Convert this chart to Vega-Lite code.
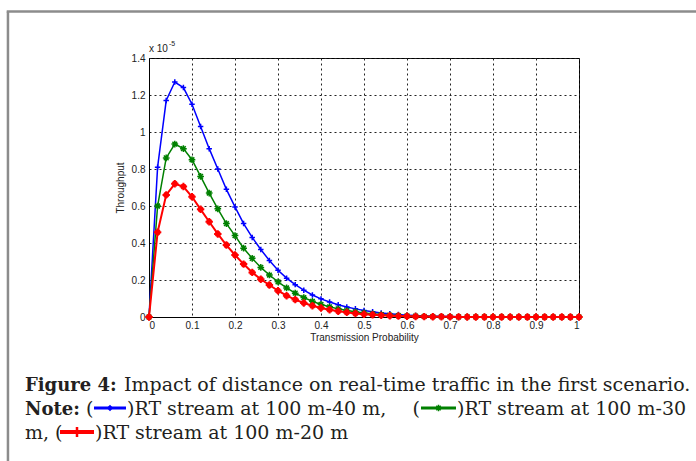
{
  "$schema": "https://vega.github.io/schema/vega-lite/v6.json",
  "width": 430,
  "height": 259,
  "autosize": {"type": "none"},
  "padding": {"left": 149, "top": 58, "right": 117, "bottom": 144},
  "background": "white",
  "resolve": {"axis": {"x": "independent", "y": "independent"}},
  "config": {
    "view": {"stroke": "black", "strokeWidth": 1},
    "font": "Liberation Sans",
    "axis": {
      "domainColor": "black",
      "ticks": false,
      "gridColor": "#222",
      "gridDash": [2, 3],
      "gridOpacity": 1,
      "gridWidth": 1,
      "labelFontSize": 10,
      "labelColor": "#222",
      "labelFont": "Liberation Sans",
      "labelOverlap": false,
      "titleFont": "Liberation Sans",
      "titleFontSize": 10,
      "titleFontWeight": "normal",
      "titleColor": "#222"
    }
  },
  "datasets": {
    "one": [{}],
    "tp": [
      {"x": 0, "b": 0, "g": 0, "r": 0},
      {"x": 0.02, "b": 0.81, "g": 0.6, "r": 0.458},
      {"x": 0.04, "b": 1.17, "g": 0.86, "r": 0.66},
      {"x": 0.06, "b": 1.27, "g": 0.935, "r": 0.72},
      {"x": 0.08, "b": 1.24, "g": 0.91, "r": 0.705},
      {"x": 0.1, "b": 1.15, "g": 0.85, "r": 0.65},
      {"x": 0.12, "b": 1.03, "g": 0.76, "r": 0.582},
      {"x": 0.14, "b": 0.91, "g": 0.67, "r": 0.515},
      {"x": 0.16, "b": 0.8, "g": 0.585, "r": 0.449},
      {"x": 0.18, "b": 0.69, "g": 0.505, "r": 0.389},
      {"x": 0.2, "b": 0.595, "g": 0.44, "r": 0.335},
      {"x": 0.22, "b": 0.505, "g": 0.372, "r": 0.286},
      {"x": 0.24, "b": 0.43, "g": 0.317, "r": 0.241},
      {"x": 0.26, "b": 0.365, "g": 0.268, "r": 0.204},
      {"x": 0.28, "b": 0.305, "g": 0.227, "r": 0.173},
      {"x": 0.3, "b": 0.253, "g": 0.19, "r": 0.142},
      {"x": 0.32, "b": 0.21, "g": 0.157, "r": 0.115},
      {"x": 0.34, "b": 0.175, "g": 0.129, "r": 0.094},
      {"x": 0.36, "b": 0.145, "g": 0.105, "r": 0.076},
      {"x": 0.38, "b": 0.119, "g": 0.085, "r": 0.061},
      {"x": 0.4, "b": 0.098, "g": 0.068, "r": 0.049},
      {"x": 0.42, "b": 0.081, "g": 0.055, "r": 0.039},
      {"x": 0.44, "b": 0.066, "g": 0.044, "r": 0.031},
      {"x": 0.46, "b": 0.054, "g": 0.035, "r": 0.025},
      {"x": 0.48, "b": 0.044, "g": 0.028, "r": 0.019},
      {"x": 0.5, "b": 0.035, "g": 0.022, "r": 0.015},
      {"x": 0.52, "b": 0.028, "g": 0.017, "r": 0.012},
      {"x": 0.54, "b": 0.022, "g": 0.013, "r": 0.009},
      {"x": 0.56, "b": 0.017, "g": 0.01, "r": 0.007},
      {"x": 0.58, "b": 0.013, "g": 0.008, "r": 0.005},
      {"x": 0.6, "b": 0.01, "g": 0.006, "r": 0.004},
      {"x": 0.62, "b": 0.008, "g": 0.0045, "r": 0.003},
      {"x": 0.64, "b": 0.006, "g": 0.0034, "r": 0.0022},
      {"x": 0.66, "b": 0.0045, "g": 0.0025, "r": 0.0016},
      {"x": 0.68, "b": 0.0034, "g": 0.0019, "r": 0.0012},
      {"x": 0.7, "b": 0.0025, "g": 0.0014, "r": 0.0009},
      {"x": 0.72, "b": 0.0018, "g": 0.001, "r": 0.0006},
      {"x": 0.74, "b": 0.0013, "g": 0.0007, "r": 0.0004},
      {"x": 0.76, "b": 0.0009, "g": 0.0005, "r": 0.0003},
      {"x": 0.78, "b": 0.0006, "g": 0.0004, "r": 0.0002},
      {"x": 0.8, "b": 0.0004, "g": 0.0003, "r": 0.0001},
      {"x": 0.82, "b": 0.0003, "g": 0.0002, "r": 0},
      {"x": 0.84, "b": 0.0002, "g": 0.0001, "r": 0},
      {"x": 0.86, "b": 0.0001, "g": 0.0001, "r": 0},
      {"x": 0.88, "b": 0.0001, "g": 0, "r": 0},
      {"x": 0.9, "b": 0, "g": 0, "r": 0},
      {"x": 0.92, "b": 0, "g": 0, "r": 0},
      {"x": 0.94, "b": 0, "g": 0, "r": 0},
      {"x": 0.96, "b": 0, "g": 0, "r": 0},
      {"x": 0.98, "b": 0, "g": 0, "r": 0},
      {"x": 1, "b": 0, "g": 0, "r": 0}
    ]
  },
  "layer": [
    {
      "data": {"name": "tp"},
      "mark": {"type": "line", "color": "#0000ff", "strokeWidth": 1.5},
      "encoding": {
        "x": {"field": "x", "type": "quantitative",
          "scale": {"domain": [0, 1], "nice": false, "zero": false},
          "axis": {"values": [0, 0.1, 0.2, 0.3, 0.4, 0.5, 0.6, 0.7, 0.8, 0.9, 1], "tickCount": 30, "format": ".1~f", "grid": true, "labelPadding": 3, "title": "Transmission Probability", "titlePadding": 2}},
        "y": {"field": "b", "type": "quantitative",
          "scale": {"domain": [0, 1.4], "nice": false, "zero": false},
          "axis": {"values": [0, 0.2, 0.4, 0.6, 0.8, 1, 1.2, 1.4], "tickCount": 30, "format": ".1~f", "grid": true, "labelPadding": 4, "title": "Throughput", "titlePadding": 6}}
      }
    },
    {
      "data": {"name": "tp"},
      "mark": {"type": "point", "shape": "M-1,0L1,0M0,-1L0,1", "filled": false, "stroke": "#0000ff", "size": 30, "strokeWidth": 1.5, "opacity": 1},
      "encoding": {
        "x": {"field": "x", "type": "quantitative", "axis": null},
        "y": {"field": "b", "type": "quantitative", "axis": null}
      }
    },
    {
      "data": {"name": "tp"},
      "mark": {"type": "line", "color": "#008000", "strokeWidth": 1.5},
      "encoding": {
        "x": {"field": "x", "type": "quantitative", "axis": null},
        "y": {"field": "g", "type": "quantitative", "axis": null}
      }
    },
    {
      "data": {"name": "tp"},
      "mark": {"type": "point", "shape": "M-1,0L1,0M0,-1L0,1M-0.7,-0.7L0.7,0.7M-0.7,0.7L0.7,-0.7", "filled": false, "stroke": "#008000", "size": 45, "strokeWidth": 1.5, "opacity": 1},
      "encoding": {
        "x": {"field": "x", "type": "quantitative", "axis": null},
        "y": {"field": "g", "type": "quantitative", "axis": null}
      }
    },
    {
      "data": {"name": "tp"},
      "mark": {"type": "line", "color": "#ff0000", "strokeWidth": 2},
      "encoding": {
        "x": {"field": "x", "type": "quantitative", "axis": null},
        "y": {"field": "r", "type": "quantitative", "axis": null}
      }
    },
    {
      "data": {"name": "tp"},
      "mark": {"type": "point", "shape": "M-1,0L1,0M0,-1L0,1M-0.6,-0.6L0.6,0.6M-0.6,0.6L0.6,-0.6", "filled": false, "stroke": "#ff0000", "size": 55, "strokeWidth": 2, "opacity": 1},
      "encoding": {
        "x": {"field": "x", "type": "quantitative", "axis": null},
        "y": {"field": "r", "type": "quantitative", "axis": null}
      }
    },
    {
      "data": {"name": "one"},
      "mark": {"type": "text", "align": "left", "baseline": "alphabetic", "fontSize": 10, "font": "Liberation Sans", "color": "#222"},
      "encoding": {"x": {"datum": 0, "axis": null}, "y": {"datum": 1.4324, "axis": null}, "text": {"value": "x 10"}}
    },
    {
      "data": {"name": "one"},
      "mark": {"type": "text", "align": "left", "baseline": "alphabetic", "fontSize": 7, "font": "Liberation Sans", "color": "#222", "dx": 20},
      "encoding": {"x": {"datum": 0, "axis": null}, "y": {"datum": 1.4649, "axis": null}, "text": {"value": "-5"}}
    },
    {
      "data": {"name": "one"},
      "mark": {"type": "rule", "color": "#8c8c8c", "strokeWidth": 2.5, "clip": false},
      "encoding": {"x": {"datum": -0.328, "axis": null}, "y": {"datum": 1.6514, "axis": null}, "y2": {"datum": -0.85}}
    },
    {
      "data": {"name": "one"},
      "mark": {"type": "rule", "color": "#8c8c8c", "strokeWidth": 2.5, "clip": false},
      "encoding": {"x": {"datum": -0.3309, "axis": null}, "x2": {"datum": 1.3}, "y": {"datum": 1.6514, "axis": null}}
    },
    {
      "data": {"name": "one"},
      "mark": {"type": "text", "align": "left", "baseline": "alphabetic", "fontSize": 18, "font": "DejaVu Serif", "fontWeight": "bold", "color": "#231f20"},
      "encoding": {"x": {"datum": -0.28837, "axis": null}, "y": {"datum": -0.4, "axis": null}, "text": {"value": "Figure 4:"}}
    },
    {
      "data": {"name": "one"},
      "mark": {"type": "text", "align": "left", "baseline": "alphabetic", "fontSize": 19, "font": "DejaVu Serif", "color": "#231f20"},
      "encoding": {"x": {"datum": -0.05814, "axis": null}, "y": {"datum": -0.4, "axis": null}, "text": {"value": "Impact of distance on real-time traffic in the first scenario."}}
    },
    {
      "data": {"name": "one"},
      "mark": {"type": "text", "align": "left", "baseline": "alphabetic", "fontSize": 18, "font": "DejaVu Serif", "fontWeight": "bold", "color": "#231f20"},
      "encoding": {"x": {"datum": -0.28837, "axis": null}, "y": {"datum": -0.5297, "axis": null}, "text": {"value": "Note:"}}
    },
    {
      "data": {"name": "one"},
      "mark": {"type": "text", "align": "left", "baseline": "alphabetic", "fontSize": 19, "font": "DejaVu Serif", "color": "#231f20"},
      "encoding": {"x": {"datum": -0.14651, "axis": null}, "y": {"datum": -0.5297, "axis": null}, "text": {"value": "("}}
    },
    {
      "data": {"name": "one"},
      "mark": {"type": "rule", "color": "#0000ff", "strokeWidth": 3, "clip": false},
      "encoding": {"x": {"datum": -0.12791, "axis": null}, "x2": {"datum": -0.05349}, "y": {"datum": -0.4919, "axis": null}}
    },
    {
      "data": {"name": "one"},
      "mark": {"type": "point", "shape": "diamond", "filled": true, "color": "#0000ff", "size": 40, "opacity": 1, "clip": false},
      "encoding": {"x": {"datum": -0.0907, "axis": null}, "y": {"datum": -0.4919, "axis": null}}
    },
    {
      "data": {"name": "one"},
      "mark": {"type": "text", "align": "left", "baseline": "alphabetic", "fontSize": 19, "font": "DejaVu Serif", "color": "#231f20"},
      "encoding": {"x": {"datum": -0.05116, "axis": null}, "y": {"datum": -0.5297, "axis": null}, "text": {"value": ")RT stream at 100 m-40 m,"}}
    },
    {
      "data": {"name": "one"},
      "mark": {"type": "text", "align": "right", "baseline": "alphabetic", "fontSize": 19, "font": "DejaVu Serif", "color": "#231f20"},
      "encoding": {"x": {"datum": 0.63023, "axis": null}, "y": {"datum": -0.5297, "axis": null}, "text": {"value": "("}}
    },
    {
      "data": {"name": "one"},
      "mark": {"type": "rule", "color": "#008000", "strokeWidth": 3, "clip": false},
      "encoding": {"x": {"datum": 0.63256, "axis": null}, "x2": {"datum": 0.71395}, "y": {"datum": -0.4919, "axis": null}}
    },
    {
      "data": {"name": "one"},
      "mark": {"type": "point", "shape": "M-1,0L1,0M0,-1L0,1M-0.7,-0.7L0.7,0.7M-0.7,0.7L0.7,-0.7", "filled": false, "stroke": "#008000", "strokeWidth": 1.5, "size": 40, "opacity": 1, "clip": false},
      "encoding": {"x": {"datum": 0.67326, "axis": null}, "y": {"datum": -0.4919, "axis": null}}
    },
    {
      "data": {"name": "one"},
      "mark": {"type": "text", "align": "left", "baseline": "alphabetic", "fontSize": 19, "font": "DejaVu Serif", "color": "#231f20"},
      "encoding": {"x": {"datum": 0.71628, "axis": null}, "y": {"datum": -0.5297, "axis": null}, "text": {"value": ")RT stream at 100 m-30"}}
    },
    {
      "data": {"name": "one"},
      "mark": {"type": "text", "align": "left", "baseline": "alphabetic", "fontSize": 19, "font": "DejaVu Serif", "color": "#231f20"},
      "encoding": {"x": {"datum": -0.28837, "axis": null}, "y": {"datum": -0.6595, "axis": null}, "text": {"value": "m, ("}}
    },
    {
      "data": {"name": "one"},
      "mark": {"type": "rule", "color": "#ff0000", "strokeWidth": 4, "clip": false},
      "encoding": {"x": {"datum": -0.20698, "axis": null}, "x2": {"datum": -0.12791}, "y": {"datum": -0.6216, "axis": null}}
    },
    {
      "data": {"name": "one"},
      "mark": {"type": "point", "shape": "M-1,0L1,0M0,-1L0,1", "filled": false, "stroke": "#ff0000", "strokeWidth": 2.5, "size": 100, "opacity": 1, "clip": false},
      "encoding": {"x": {"datum": -0.16744, "axis": null}, "y": {"datum": -0.6216, "axis": null}}
    },
    {
      "data": {"name": "one"},
      "mark": {"type": "text", "align": "left", "baseline": "alphabetic", "fontSize": 19, "font": "DejaVu Serif", "color": "#231f20"},
      "encoding": {"x": {"datum": -0.12558, "axis": null}, "y": {"datum": -0.6595, "axis": null}, "text": {"value": ")RT stream at 100 m-20 m"}}
    }
  ]
}
